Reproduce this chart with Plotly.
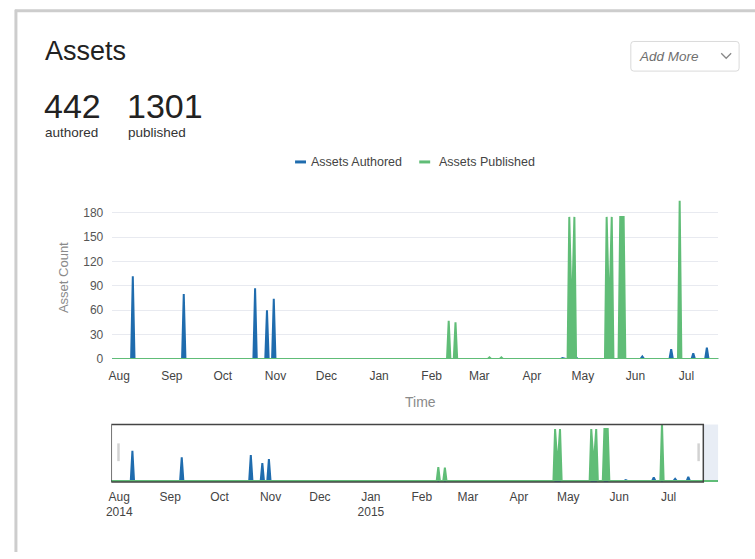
import pandas as pd
import plotly.graph_objects as go

# ---- data -------------------------------------------------------------
authored_dates = ['2014-08-09', '2014-09-08', '2014-10-20', '2014-10-27', '2014-10-31',
                  '2015-04-19', '2015-04-27', '2015-06-05', '2015-06-22', '2015-07-05',
                  '2015-07-13']
authored_counts = [102, 80, 87, 60, 74, 1, 2, 3, 12, 7, 14]

published_dates = ['2015-02-11', '2015-02-15', '2015-03-07', '2015-03-14',
                   '2015-04-23', '2015-04-24', '2015-04-25', '2015-04-26',
                   '2015-05-15', '2015-05-16', '2015-05-17', '2015-05-18',
                   '2015-05-23', '2015-05-24', '2015-05-25', '2015-06-27']
published_counts = [47, 45, 2, 2, 175, 90, 90, 175, 175, 92, 92, 175, 175, 175, 175, 195]

series_names = ['Assets Authored', 'Assets Published']
kpi_values = [442, 1301]
kpi_labels = ['authored', 'published']

period_start, period_end = '2014-07-27', '2015-07-31'
main_range = ['2014-07-27 22:00', '2015-07-19 17:00']
nav_range = ['2014-07-27 04:00', '2015-07-31 05:00']
nav_window = ['2014-07-27 04:00', '2015-07-22 03:00']
y_ticks = [0, 30, 60, 90, 120, 150, 180]

# daily series, days without activity count as zero
days = pd.date_range(period_start, period_end, freq='D')
authored = pd.Series(authored_counts, index=pd.to_datetime(authored_dates)).reindex(days, fill_value=0)
published = pd.Series(published_counts, index=pd.to_datetime(published_dates)).reindex(days, fill_value=0)

# ---- styling ----------------------------------------------------------
W, H = 755, 559
FONT = 'Liberation Sans, Arial, sans-serif'
BLUE = '#1f6cae'
GREEN = '#60bd77'


def px(x):
    return x / W


def py(y):
    return 1 - y / H


fig = go.Figure()

for ser, color, name in [(authored, BLUE, series_names[0]), (published, GREEN, series_names[1])]:
    for xa, ya in [('x', 'y'), ('x2', 'y2')]:
        fig.add_trace(go.Scatter(
            x=ser.index, y=ser.values, name=name, mode='lines',
            line=dict(color=color, width=2), fill='tozeroy', fillcolor=color,
            xaxis=xa, yaxis=ya, showlegend=False, hoverinfo='x+y+name'))

shapes = []
# card frame
shapes.append(dict(type='line', xref='paper', yref='paper', x0=px(10), x1=px(755), y0=py(11), y1=py(11),
                   line=dict(color='#cdcdcd', width=3)))
shapes.append(dict(type='line', xref='paper', yref='paper', x0=px(11), x1=px(11), y0=py(10), y1=py(559),
                   line=dict(color='#cdcdcd', width=3)))

# "Add More" dropdown box with rounded corners
bx0, bx1, by0, by1, r = 630, 739, 42, 72, 3
box_path = (f'M {px(bx0 + r)},{py(by0)} L {px(bx1 - r)},{py(by0)} '
            f'Q {px(bx1)},{py(by0)} {px(bx1)},{py(by0 + r)} L {px(bx1)},{py(by1 - r)} '
            f'Q {px(bx1)},{py(by1)} {px(bx1 - r)},{py(by1)} L {px(bx0 + r)},{py(by1)} '
            f'Q {px(bx0)},{py(by1)} {px(bx0)},{py(by1 - r)} L {px(bx0)},{py(by0 + r)} '
            f'Q {px(bx0)},{py(by0)} {px(bx0 + r)},{py(by0)} Z')
shapes.append(dict(type='path', xref='paper', yref='paper', path=box_path,
                   line=dict(color='#dadada', width=1), fillcolor='white'))
shapes.append(dict(type='path', xref='paper', yref='paper',
                   path=f'M {px(721)},{py(54)} L {px(726)},{py(59)} L {px(731)},{py(54)}',
                   line=dict(color='#888888', width=1.3)))

# legend swatches
for x0, color in [(292, BLUE), (417, GREEN)]:
    shapes.append(dict(type='line', xref='paper', yref='paper', x0=px(x0), x1=px(x0 + 11),
                       y0=py(164), y1=py(164), line=dict(color=color, width=3)))

# navigator: shaded area outside the window, window frame and grab handles
shapes.append(dict(type='rect', xref='x2', yref='paper', x0=nav_window[1], x1=nav_range[1],
                   y0=py(488), y1=py(430), fillcolor='rgba(205,215,232,0.45)', line=dict(width=0),
                   layer='below'))
shapes.append(dict(type='rect', xref='x2', yref='paper', x0=nav_window[0], x1=nav_window[1],
                   y0=py(488), y1=py(430), line=dict(color='#444444', width=1.5)))
for hx in [113, 697]:
    shapes.append(dict(type='rect', xref='paper', yref='paper', x0=px(hx), x1=px(hx + 2.5),
                       y0=py(467), y1=py(449), fillcolor='#d2d2d2', line=dict(width=0)))

annotations = []


def text(x, y, s, size, color, xanchor='left', **kw):
    annotations.append(dict(xref='paper', yref='paper', x=px(x), y=py(y), text=s, showarrow=False,
                            xanchor=xanchor, yanchor='middle',
                            font=dict(family=FONT, size=size, color=color), **kw))


text(38, 52, 'Assets', 27, '#222222')
text(37, 107, str(kpi_values[0]), 34, '#222222')
text(121, 107, str(kpi_values[1]), 34, '#222222')
text(38, 134, kpi_labels[0], 13.5, '#333333')
text(122, 134, kpi_labels[1], 13.5, '#333333')
text(636, 57, '<i>Add More</i>', 13.5, '#6f6f6f')
text(306, 164, series_names[0], 12.5, '#444444')
text(435, 164, series_names[1], 12.5, '#444444')
text(59, 281, 'Asset Count', 13, '#8a8a8a', xanchor='center', textangle=-90)
text(418, 407, 'Time', 14, '#8a8a8a', xanchor='center')

fig.update_layout(
    width=W, height=H,
    margin=dict(l=0, r=0, t=0, b=0),
    paper_bgcolor='white', plot_bgcolor='white',
    font=dict(family=FONT, size=12, color='#444444'),
    showlegend=False,
    shapes=shapes,
    annotations=annotations,
    xaxis=dict(domain=[px(108), px(718)], anchor='y', type='date', range=main_range,
               dtick='M1', tick0='2014-08-01', tickformat='%b', showgrid=False, zeroline=False,
               showline=False, ticks='', ticklabelstandoff=8,
               tickfont=dict(size=12, color='#444444')),
    yaxis=dict(domain=[py(363.5), py(200)], anchor='x', range=[0, 198.9], tickvals=y_ticks,
               gridcolor='#e8eaf0', gridwidth=1, zeroline=False, showline=False, ticks='',
               ticklabelstandoff=8, tickfont=dict(size=12, color='#555555')),
    xaxis2=dict(domain=[px(107), px(718)], anchor='y2', type='date', range=nav_range,
                dtick='M1', tick0='2014-08-01', tickformat='%b\n%Y', showgrid=False,
                zeroline=False, showline=False, ticks='', ticklabelstandoff=6,
                tickfont=dict(size=12, color='#444444')),
    yaxis2=dict(domain=[py(488), py(430)], anchor='x2', range=[-3, 190], visible=False),
)

fig.write_html('out.html')
